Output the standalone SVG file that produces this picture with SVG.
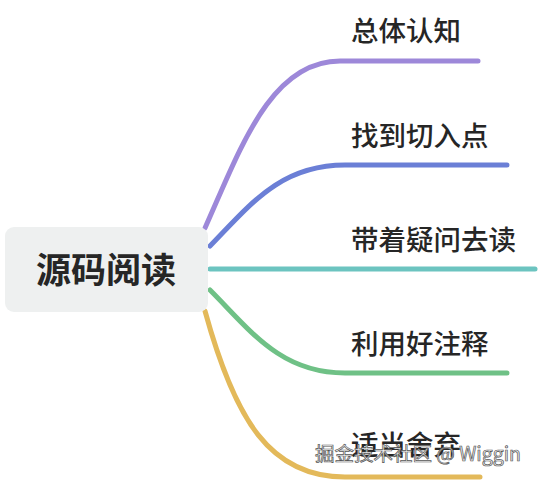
<svg xmlns="http://www.w3.org/2000/svg" width="538" height="482" viewBox="0 0 538 482">
<style>
.br{fill:none;stroke-width:5;stroke-linecap:round}
.lbl{font-family:"Noto Sans CJK SC","Noto Sans",sans-serif;font-size:27.5px;font-weight:500;fill:#262626}
.root{font-family:"Noto Sans CJK SC","Noto Sans",sans-serif;font-size:35px;font-weight:700;fill:#262626}
.wm{font-family:"Noto Sans CJK SC","Liberation Sans",sans-serif;font-size:19.5px;fill:#f0f0f0;stroke:#555;stroke-width:0.7}
</style>
<rect width="538" height="482" fill="#ffffff"/>
<g id="connectors">
<path class="br" stroke="#9d88d9" d="M205,228 C240,150 270,61 340,61 L478,61"/>
<path class="br" stroke="#6b7fd6" d="M210,246 C250,205 280,165 345,165 L507,165"/>
<path class="br" stroke="#6cc4c0" d="M210,269 L535,269"/>
<path class="br" stroke="#6fc186" d="M210,290 C250,330 280,373 345,373 L507,373"/>
<path class="br" stroke="#e3b95a" d="M205,311 C235,420 270,477 345,477 L480,477"/>
</g>
<g id="root">
<rect x="5" y="227" width="203" height="85" rx="9" fill="#eef0f0"/>
<text class="root" x="106" y="283" text-anchor="middle">源码阅读</text>
</g>
<g id="n1"><text class="lbl" x="351" y="41">总体认知</text></g>
<g id="n2"><text class="lbl" x="351" y="146">找到切入点</text></g>
<g id="n3"><text class="lbl" x="351" y="250">带着疑问去读</text></g>
<g id="n4"><text class="lbl" x="351" y="354">利用好注释</text></g>
<g id="n5"><text class="lbl" x="351" y="455">适当舍弃</text></g>
<text class="wm" x="315" y="461">掘金技术社区 @ Wiggin</text>
</svg>
